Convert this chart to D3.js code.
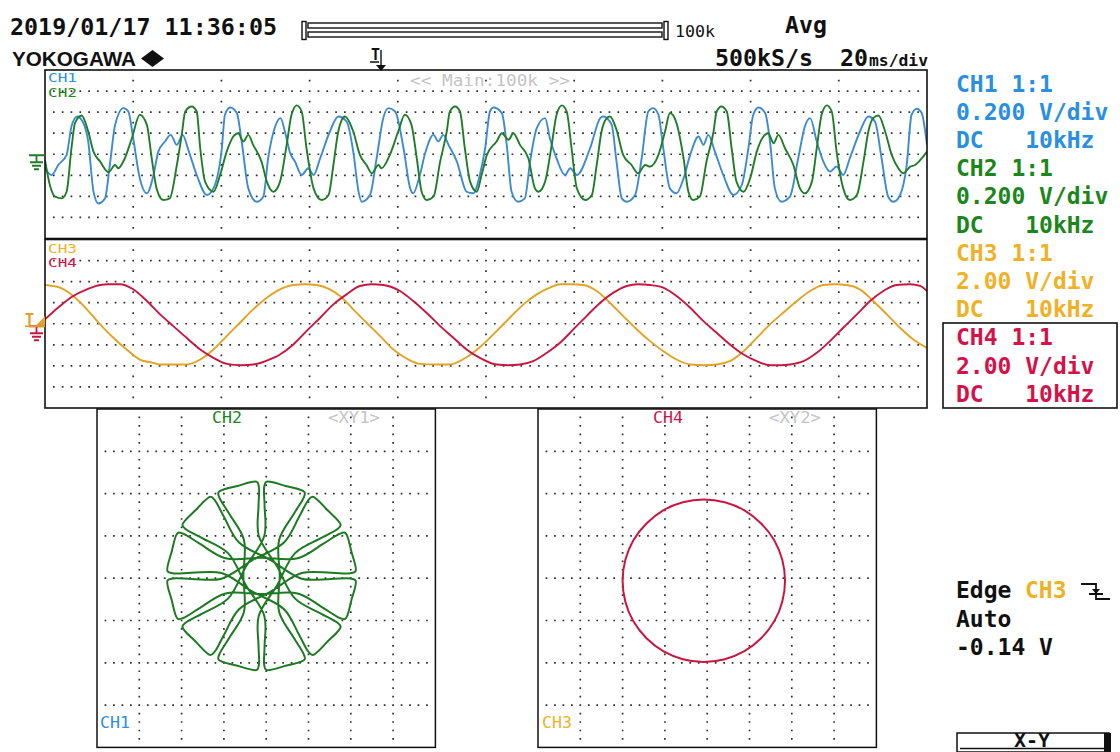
<!DOCTYPE html>
<html>
<head>
<meta charset="utf-8">
<script src="https://cdn.jsdelivr.net/npm/d3@7"></script>
<style>
  html, body { margin: 0; padding: 0; background: #fff; }
  svg { display: block; }
  text { font-family: "DejaVu Sans Mono", monospace; white-space: pre; }
</style>
</head>
<body>
<svg id="scope" width="1120" height="752"></svg>
<script>
// ---------------- acquisition data ----------------
// time in ms (0..200 across the screen), value in volts
const ch1 = [[0,-0.133],[1.5,-0.197],[3.0,-0.102],[4.9,-0.006],[6.0,0.264],[7.3,0.359],[8.7,0.295],[9.8,0.121],[11.0,-0.356],[12.1,-0.467],[13.6,-0.419],[14.7,-0.102],[15.9,0.279],[17.8,0.438],[18.9,0.406],[20.0,0.152],[21.5,-0.229],[23.1,-0.371],[24.6,-0.197],[25.7,0.025],[27.2,0.121],[28.5,0.184],[29.9,0.089],[31.2,0.184],[32.5,0.041],[34.4,-0.197],[36.7,-0.387],[38.2,-0.324],[40.1,0.057],[40.8,0.375],[42.0,0.444],[43.5,0.391],[44.6,0.121],[46.1,-0.324],[48.0,-0.451],[49.5,-0.403],[50.6,-0.038],[52.2,0.264],[53.4,0.343],[54.4,0.216],[55.6,0.010],[56.7,-0.070],[58.2,-0.197],[59.7,-0.133],[60.9,-0.197],[62.4,-0.038],[64.6,0.216],[66.5,0.359],[68.4,0.311],[69.9,0.025],[71.1,-0.356],[71.8,-0.451],[73.7,-0.387],[75.2,-0.038],[76.7,0.343],[77.9,0.438],[79.4,0.406],[81.3,0.057],[82.8,-0.324],[83.5,-0.371],[85.0,-0.197],[86.2,0.010],[88.1,0.184],[89.2,0.121],[90.3,0.184],[91.5,0.089],[93.4,-0.070],[95.6,-0.356],[97.1,-0.371],[98.6,-0.197],[99.8,0.057],[100.9,0.406],[101.7,0.444],[103.6,0.391],[104.7,0.089],[105.8,-0.356],[107.3,-0.451],[108.8,-0.419],[110.0,-0.070],[111.5,0.248],[113.4,0.343],[114.5,0.150],[116.0,-0.040],[117.9,-0.197],[119.1,-0.133],[120.6,-0.197],[123.6,0.057],[125.9,0.343],[126.6,0.359],[128.5,0.279],[129.6,-0.070],[130.8,-0.419],[131.9,-0.451],[133.8,-0.387],[135.3,-0.038],[136.8,0.406],[137.9,0.438],[139.1,0.375],[140.2,0.057],[141.7,-0.324],[143.2,-0.371],[144.8,-0.229],[146.3,-0.006],[148.2,0.168],[149.3,0.089],[150.4,0.184],[151.9,0.025],[153.8,-0.197],[156.1,-0.387],[158.0,-0.292],[159.5,0.057],[160.6,0.375],[161.8,0.444],[163.3,0.391],[164.4,0.121],[165.5,-0.324],[167.0,-0.451],[168.9,-0.403],[170.8,-0.038],[172.3,0.264],[173.5,0.343],[175.0,0.121],[176.5,-0.070],[178.0,-0.165],[179.5,-0.117],[181.0,-0.197],[182.5,-0.038],[184.8,0.216],[186.7,0.359],[188.2,0.311],[189.7,-0.038],[191.2,-0.403],[192.4,-0.451],[193.9,-0.387],[195.4,-0.102],[196.5,0.375],[197.7,0.432],[198.8,0.391],[199.6,0.216],[200,0.089]];

const ch2 = [[0,-0.054],[1.1,-0.292],[2.3,-0.403],[3.8,-0.419],[4.9,-0.356],[6.0,0.057],[6.8,0.295],[8.3,0.368],[9.8,0.216],[11.0,0.025],[12.5,-0.070],[14.4,-0.171],[15.9,-0.102],[16.6,-0.133],[18.1,-0.038],[19.7,0.152],[21.5,0.375],[23.1,0.279],[24.2,-0.038],[25.3,-0.324],[26.8,-0.435],[28.3,-0.419],[29.9,-0.102],[31.0,0.184],[31.8,0.406],[33.3,0.454],[34.4,0.406],[35.2,0.057],[36.3,-0.260],[38.2,-0.356],[39.7,-0.197],[41.2,0.025],[42.7,0.168],[43.8,0.200],[45.0,0.121],[46.1,0.184],[47.2,0.089],[49.1,-0.070],[50.3,-0.260],[51.8,-0.356],[53.3,-0.260],[54.8,0.089],[55.9,0.375],[57.1,0.464],[58.2,0.406],[59.3,0.057],[60.9,-0.324],[62.7,-0.435],[64.3,-0.387],[65.4,-0.102],[66.5,0.216],[68.0,0.359],[69.9,0.216],[71.4,-0.006],[72.9,-0.102],[74.1,-0.181],[75.6,-0.102],[76.3,-0.133],[78.2,-0.006],[80.1,0.216],[81.6,0.375],[83.1,0.279],[84.3,-0.038],[85.4,-0.356],[86.6,-0.435],[88.1,-0.403],[89.6,-0.070],[91.1,0.216],[91.8,0.406],[93.0,0.454],[94.1,0.406],[95.2,0.057],[96.4,-0.260],[97.9,-0.356],[99.0,-0.197],[100.2,-0.006],[102.4,0.121],[103.6,0.200],[105.1,0.137],[106.2,0.200],[107.7,0.089],[109.6,-0.038],[111.1,-0.324],[111.9,-0.356],[113.4,-0.260],[114.9,0.089],[116.0,0.375],[117.2,0.464],[118.3,0.406],[119.4,0.057],[120.6,-0.324],[122.5,-0.435],[124.0,-0.387],[125.1,-0.102],[126.2,0.216],[127.4,0.343],[128.1,0.359],[129.6,0.232],[131.1,-0.006],[133.0,-0.102],[134.5,-0.181],[136.1,-0.102],[137.2,-0.117],[139.1,-0.006],[140.6,0.216],[141.7,0.391],[143.2,0.295],[144.8,-0.038],[145.9,-0.356],[147.0,-0.435],[148.5,-0.403],[150.0,-0.070],[151.6,0.216],[152.3,0.406],[153.4,0.454],[154.6,0.406],[155.7,0.057],[156.8,-0.260],[158.4,-0.356],[159.9,-0.229],[161.4,0.025],[162.9,0.168],[164.0,0.200],[165.2,0.105],[166.3,0.184],[167.8,0.057],[169.7,-0.102],[171.2,-0.324],[172.3,-0.371],[173.9,-0.260],[175.0,0.057],[176.1,0.375],[177.3,0.464],[178.4,0.406],[179.5,0.025],[181.0,-0.324],[182.5,-0.435],[184.1,-0.387],[185.6,-0.070],[186.7,0.216],[187.8,0.343],[189.0,0.368],[190.5,0.216],[192.0,-0.006],[193.5,-0.133],[194.6,-0.181],[196.2,-0.117],[197.3,-0.102],[198.8,-0.038],[200,0.025]];

const ch3 = [[0,3.683],[3.4,3.429],[6.4,2.635],[9.5,1.365],[12.5,-0.064],[15.5,-1.334],[18.5,-2.445],[21.5,-3.397],[24.6,-3.715],[26.1,-3.874],[29.1,-3.874],[32.1,-3.874],[35.2,-3.397],[38.2,-2.445],[41.2,-1.175],[44.2,0.095],[47.2,1.365],[50.3,2.477],[53.3,3.270],[56.3,3.683],[59.0,3.747],[61.6,3.683],[64.6,3.270],[66.9,2.635],[69.9,1.365],[72.9,0.095],[76.0,-1.175],[79.0,-2.445],[82.0,-3.302],[85.0,-3.810],[88.8,-3.874],[91.8,-3.874],[95.6,-3.175],[98.6,-2.223],[102.4,-0.699],[105.4,0.572],[108.5,1.842],[111.5,2.794],[114.5,3.429],[116.8,3.747],[119.4,3.747],[122.1,3.683],[125.1,3.112],[128.1,2.000],[131.1,0.730],[134.2,-0.540],[137.2,-1.651],[140.2,-2.604],[143.2,-3.397],[146.3,-3.874],[149.3,-3.937],[152.3,-3.874],[155.3,-3.556],[158.4,-2.604],[161.4,-1.334],[164.4,-0.064],[167.4,1.048],[170.5,2.159],[173.5,3.112],[176.5,3.683],[179.1,3.747],[181.8,3.683],[184.8,3.270],[187.8,2.159],[190.9,0.889],[193.9,-0.381],[196.9,-1.492],[200,-2.286]];

const ch4 = [[0,0.413],[3.4,1.683],[6.4,2.635],[9.5,3.270],[12.5,3.683],[14.4,3.747],[17.0,3.747],[20.0,3.270],[23.1,2.159],[26.1,0.889],[29.1,-0.222],[32.1,-1.334],[35.2,-2.445],[38.2,-3.239],[41.2,-3.810],[44.6,-3.937],[47.2,-3.874],[50.3,-3.493],[53.3,-2.921],[56.3,-1.969],[59.3,-0.699],[62.4,0.572],[65.4,1.842],[68.4,2.794],[71.4,3.588],[74.1,3.747],[76.7,3.683],[80.5,3.112],[83.5,2.159],[86.5,1.048],[89.6,-0.222],[92.6,-1.334],[95.6,-2.445],[98.6,-3.239],[102.4,-3.874],[105.1,-3.937],[107.7,-3.874],[110.7,-3.556],[113.8,-2.762],[116.8,-1.810],[119.8,-0.540],[122.8,0.730],[125.9,2.000],[128.9,2.953],[131.9,3.588],[134.5,3.747],[137.2,3.683],[140.2,3.429],[143.2,2.635],[146.3,1.524],[149.3,0.254],[152.3,-0.857],[155.3,-1.969],[158.4,-2.921],[161.4,-3.556],[164.4,-3.937],[166.7,-3.937],[168.9,-3.874],[172.0,-3.556],[175.0,-2.762],[178.0,-1.651],[181.0,-0.381],[184.1,0.889],[187.1,2.159],[190.1,3.112],[193.1,3.683],[196.2,3.747],[198.4,3.588],[200,3.112]];

// XY1 (CH1 horizontal, CH2 vertical): trace as [angle deg, radius V] around its own centre
const xy1Origin = [-0.022, 0.011];
const xy1Trace = [
  [4,.190],[2.5,.330],[1.7,.420],[2.8,.445],[15,.440],[27.2,.445],[28.3,.420],[27.5,.330],[26,.190],[90,.086],
  [154,.190],[152.5,.330],[151.7,.420],[152.8,.445],[165,.440],[177.2,.445],[178.3,.420],[177.5,.330],[176,.190],[240,.086],
  [304,.190],[302.5,.330],[301.7,.420],[302.8,.445],[315,.440],[327.2,.445],[328.3,.420],[327.5,.330],[326,.190],[30,.086],
  [94,.190],[92.5,.330],[91.7,.420],[92.8,.445],[105,.440],[117.2,.445],[118.3,.420],[117.5,.330],[116,.190],[180,.086],
  [244,.190],[242.5,.330],[241.7,.420],[242.8,.445],[255,.440],[267.2,.445],[268.3,.420],[267.5,.330],[266,.190],[330,.086],
  [34,.190],[32.5,.330],[31.7,.420],[32.8,.445],[45,.440],[57.2,.445],[58.3,.420],[57.5,.330],[56,.190],[120,.086],
  [184,.190],[182.5,.330],[181.7,.420],[182.8,.445],[195,.440],[207.2,.445],[208.3,.420],[207.5,.330],[206,.190],[270,.086],
  [334,.190],[332.5,.330],[331.7,.420],[332.8,.445],[345,.440],[357.2,.445],[358.3,.420],[357.5,.330],[356,.190],[60,.086],
  [124,.190],[122.5,.330],[121.7,.420],[122.8,.445],[135,.440],[147.2,.445],[148.3,.420],[147.5,.330],[146,.190],[210,.086],
  [274,.190],[272.5,.330],[271.7,.420],[272.8,.445],[285,.440],[297.2,.445],[298.3,.420],[297.5,.330],[296,.190],[0,.086],
  [64,.190],[62.5,.330],[61.7,.420],[62.8,.445],[75,.440],[87.2,.445],[88.3,.420],[87.5,.330],[86,.190],[150,.086],
  [214,.190],[212.5,.330],[211.7,.420],[212.8,.445],[225,.440],[237.2,.445],[238.3,.420],[237.5,.330],[236,.190],[300,.086]
];

// XY2 (CH3 horizontal, CH4 vertical): [CH3 V, CH4 V]
const xy2Trace = [[3.68,-0.12],[3.55,0.87],[3.17,1.80],[2.55,2.59],[1.76,3.21],[0.83,3.59],[-0.16,3.72],[-1.15,3.59],[-2.08,3.21],[-2.87,2.59],[-3.49,1.80],[-3.87,0.87],[-4.00,-0.12],[-3.87,-1.11],[-3.49,-2.04],[-2.87,-2.84],[-2.08,-3.45],[-1.15,-3.83],[-0.16,-3.96],[0.83,-3.83],[1.76,-3.45],[2.55,-2.84],[3.17,-2.04],[3.55,-1.11]];

// channel settings
const chNames = ["CH1", "CH2", "CH3", "CH4"];
const voltsPerDiv = [0.2, 0.2, 2, 2];
const vdivLabels = ["0.200 V/div", "0.200 V/div", "2.00 V/div", "2.00 V/div"];
const couplingLabels = ["DC   10kHz", "DC   10kHz", "DC   10kHz", "DC   10kHz"];
const probeLabels = ["1:1", "1:1", "1:1", "1:1"];
const timePerDiv = 20;           // ms/div
const timeDivs = 10, ampDivs = 8, xyDivs = 8;
const triggerLevel = -0.14;      // V on CH3
const headerTexts = { date: "2019/01/17 11:36:05", brand: "YOKOGAWA", mode: "Avg", rate: "500kS/s", tdiv: "20", tunit: "ms/div", rec: "100k", zoom: "<< Main:100k >>" };
const triggerTexts = ["Edge", "CH3", "Auto", "-0.14 V"];

// ---------------- drawing ----------------
const traceColor = ["#3c8bd2", "#1f7d28", "#e2a325", "#c8173f"];
const labelColor = ["#2a8fe0", "#1b861b", "#f0b126", "#d3124a"];
const svg = d3.select("#scope");

const TX0 = 45, TX1 = 927;
const upper = { y0: 70, y1: 238.5 }, lower = { y0: 239.5, y1: 408 };
const xy1Box = { x0: 97, x1: 435.4, y0: 409, y1: 747.4 };
const xy2Box = { x0: 538, x1: 876.4, y0: 409, y1: 747.4 };

const xT = d3.scaleLinear().domain([0, timeDivs * timePerDiv]).range([TX0, TX1]);
const yU = d3.scaleLinear().domain([-ampDivs / 2 * voltsPerDiv[0], ampDivs / 2 * voltsPerDiv[0]]).range([upper.y1, upper.y0]);
const yL = d3.scaleLinear().domain([-ampDivs / 2 * voltsPerDiv[2], ampDivs / 2 * voltsPerDiv[2]]).range([lower.y1, lower.y0]);
const x1S = d3.scaleLinear().domain([-xyDivs / 2 * voltsPerDiv[0], xyDivs / 2 * voltsPerDiv[0]]).range([xy1Box.x0, xy1Box.x1]);
const y1S = d3.scaleLinear().domain([-xyDivs / 2 * voltsPerDiv[1], xyDivs / 2 * voltsPerDiv[1]]).range([xy1Box.y1, xy1Box.y0]);
const x2S = d3.scaleLinear().domain([-xyDivs / 2 * voltsPerDiv[2], xyDivs / 2 * voltsPerDiv[2]]).range([xy2Box.x0, xy2Box.x1]);
const y2S = d3.scaleLinear().domain([-xyDivs / 2 * voltsPerDiv[3], xyDivs / 2 * voltsPerDiv[3]]).range([xy2Box.y1, xy2Box.y0]);
const r1S = d3.scaleLinear().domain([0, xyDivs / 2 * voltsPerDiv[0]]).range([0, (xy1Box.x1 - xy1Box.x0) / 2]);

// dotted graticule
function dotGrid(box, nx, ny, hPer, vPer) {
  const dx = (box.x1 - box.x0) / nx, dy = (box.y1 - box.y0) / ny, s = 1.7;
  let p = "";
  const dot = (x, y) => { p += `M${(x - s / 2).toFixed(2)},${(y - s / 2).toFixed(2)}h${s}v${s}h${-s}z`; };
  for (let k = 1; k < ny; k++) {
    const y = box.y0 + k * dy;
    for (let j = 1; j < nx * hPer; j++) dot(box.x0 + j * dx / hPer, y);
  }
  for (let i = 1; i < nx; i++) {
    const x = box.x0 + i * dx;
    for (let m = 1; m < ny * vPer; m++) if (m % vPer) dot(x, box.y0 + m * dy / vPer);
  }
  svg.append("path").attr("d", p).attr("fill", "#2e2e2e");
}
dotGrid({ x0: TX0, x1: TX1, y0: upper.y0, y1: upper.y1 }, timeDivs, ampDivs, 10, 2);
dotGrid({ x0: TX0, x1: TX1, y0: lower.y0, y1: lower.y1 }, timeDivs, ampDivs, 10, 2);
dotGrid(xy1Box, xyDivs, xyDivs, 5, 5);
dotGrid(xy2Box, xyDivs, xyDivs, 5, 5);

// clip regions
const defs = svg.append("defs");
function clip(id, b) {
  defs.append("clipPath").attr("id", id).append("rect")
    .attr("x", b.x0).attr("y", b.y0).attr("width", b.x1 - b.x0).attr("height", b.y1 - b.y0);
}
clip("cU", { x0: TX0, x1: TX1, y0: upper.y0, y1: upper.y1 });
clip("cL", { x0: TX0, x1: TX1, y0: lower.y0, y1: lower.y1 });
clip("cX1", xy1Box); clip("cX2", xy2Box);

// time-domain traces
const lineU = d3.line().x(d => xT(d[0])).y(d => yU(d[1])).curve(d3.curveMonotoneX);
const lineL = d3.line().x(d => xT(d[0])).y(d => yL(d[1])).curve(d3.curveMonotoneX);
const gU = svg.append("g").attr("clip-path", "url(#cU)");
gU.append("path").attr("d", lineU(ch1)).attr("fill", "none").attr("stroke", traceColor[0]).attr("stroke-width", 1.9);
gU.append("path").attr("d", lineU(ch2)).attr("fill", "none").attr("stroke", traceColor[1]).attr("stroke-width", 1.9);
const gL = svg.append("g").attr("clip-path", "url(#cL)");
gL.append("path").attr("d", lineL(ch3)).attr("fill", "none").attr("stroke", traceColor[2]).attr("stroke-width", 1.9);
gL.append("path").attr("d", lineL(ch4)).attr("fill", "none").attr("stroke", traceColor[3]).attr("stroke-width", 1.9);

// XY1
const gX1 = svg.append("g").attr("clip-path", "url(#cX1)")
  .append("g").attr("transform", `translate(${x1S(xy1Origin[0])},${y1S(xy1Origin[1])})`);
const radial = d3.lineRadial()
  .angle(d => (90 - d[0]) * Math.PI / 180)
  .radius(d => r1S(d[1]))
  .curve(d3.curveCatmullRomClosed.alpha(0.5));
gX1.append("path").attr("d", radial(xy1Trace)).attr("fill", "none")
  .attr("stroke", "#1e7a22").attr("stroke-width", 2).attr("stroke-linejoin", "round");

// XY2
const lineXY2 = d3.line().x(d => x2S(d[0])).y(d => y2S(d[1])).curve(d3.curveCatmullRomClosed.alpha(0.5));
svg.append("g").attr("clip-path", "url(#cX2)")
  .append("path").attr("d", lineXY2(xy2Trace)).attr("fill", "none")
  .attr("stroke", traceColor[3]).attr("stroke-width", 2);

// frames
function frame(x, y, w, h, sw) {
  svg.append("rect").attr("x", x).attr("y", y).attr("width", w).attr("height", h)
    .attr("fill", "none").attr("stroke", "#111").attr("stroke-width", sw);
}
frame(TX0, upper.y0, TX1 - TX0, upper.y1 - upper.y0, 1.6);
frame(TX0, lower.y0, TX1 - TX0, lower.y1 - lower.y0, 1.6);
frame(xy1Box.x0, xy1Box.y0, xy1Box.x1 - xy1Box.x0, xy1Box.y1 - xy1Box.y0, 1.5);
frame(xy2Box.x0, xy2Box.y0, xy2Box.x1 - xy2Box.x0, xy2Box.y1 - xy2Box.y0, 1.5);

// text helper
function txt(s, x, y, o = {}) {
  const t = svg.append("text").attr("x", x).attr("y", y).text(s)
    .attr("font-size", o.size || 23).attr("fill", o.fill || "#111")
    .attr("font-weight", o.weight || "bold")
    .attr("xml:space", "preserve");
  if (o.family) t.style("font-family", o.family);
  if (o.len) t.attr("textLength", o.len).attr("lengthAdjust", "spacingAndGlyphs");
  if (o.anchor) t.attr("text-anchor", o.anchor);
  return t;
}

// header
txt(headerTexts.date, 10, 35, { len: 267 });
txt(headerTexts.brand, 12, 66, { size: 21, family: "'Liberation Sans', Arial, sans-serif", len: 124 });
svg.append("path").attr("d", "M152.5,50 L164,58.5 L152.5,67 L141,58.5 Z").attr("fill", "#111");
txt(headerTexts.mode, 785, 33, { len: 42 });
txt(headerTexts.rate, 715, 66, { len: 98 });
txt(headerTexts.tdiv, 840, 66, { len: 28 });
txt(headerTexts.tunit, 869, 66, { size: 16, len: 59 });
txt(headerTexts.rec, 675, 37, { size: 15, weight: "normal", len: 40 });

// record-length bar
const bar = svg.append("g").attr("fill", "none").attr("stroke", "#111").attr("stroke-width", 1.4);
bar.append("rect").attr("x", 302).attr("y", 21.5).attr("width", 4).attr("height", 18);
bar.append("rect").attr("x", 308).attr("y", 23).attr("width", 354).attr("height", 5);
bar.append("rect").attr("x", 308).attr("y", 32).attr("width", 354).attr("height", 5);
bar.append("rect").attr("x", 664).attr("y", 21.5).attr("width", 4).attr("height", 18);

// trigger position marker
txt("T", 371, 60, { size: 15 });
svg.append("path").attr("d", "M370,62 H379 M381,50 V66").attr("stroke", "#111").attr("stroke-width", 1.4);
svg.append("path").attr("d", "M376,65 L386,65 L381,71 Z").attr("fill", "#111");

// in-panel labels
const small = { size: 12.5, weight: "normal" };
txt(chNames[0], 48, 82, { ...small, fill: labelColor[0], len: 29 });
txt(chNames[1], 48, 97, { ...small, fill: labelColor[1], len: 29 });
txt(chNames[2], 48, 253, { ...small, fill: labelColor[2], len: 29 });
txt(chNames[3], 48, 267, { ...small, fill: labelColor[3], len: 29 });
txt(headerTexts.zoom, 410, 86, { size: 15, weight: "normal", fill: "#c4c4c4", len: 160 });
txt(chNames[1], 212, 423, { size: 15, weight: "normal", fill: labelColor[1], len: 30 });
txt("<XY1>", 328, 423, { size: 15, weight: "normal", fill: "#c4c4c4", len: 52 });
txt(chNames[0], 100, 728, { size: 15, weight: "normal", fill: labelColor[0], len: 30 });
txt(chNames[3], 653, 423, { size: 15, weight: "normal", fill: labelColor[3], len: 30 });
txt("<XY2>", 769, 423, { size: 15, weight: "normal", fill: "#c4c4c4", len: 52 });
txt(chNames[2], 542, 728, { size: 15, weight: "normal", fill: labelColor[2], len: 30 });

// ground / trigger markers at the left edge
const gUy = yU(0), gLy = yL(0);
function ground(y, color) {
  svg.append("path").attr("d",
    `M29,${y} H45 M36.5,${y} V${y + 7} M30,${y + 7} H43 M32,${y + 10.5} H41 M34,${y + 14} H39`)
    .attr("stroke", color).attr("stroke-width", 1.8).attr("fill", "none");
}
ground(gUy + 1, traceColor[1]);
ground(gLy + 2.5, traceColor[3]);
const tlY = yL(triggerLevel);
txt("T", 25, tlY, { size: 15, fill: traceColor[2] });
svg.append("path").attr("d", `M25,${tlY + 1} H45`).attr("stroke", traceColor[2]).attr("stroke-width", 1.8);
svg.append("path").attr("d", `M36,${tlY} L45,${tlY} L45,${tlY - 9} Z`).attr("fill", traceColor[2]);

// channel legend on the right
chNames.forEach((c, i) => {
  const y0 = 91.5 + i * 3 * 28.2;
  txt(`${c} ${probeLabels[i]}`, 956, y0, { fill: labelColor[i] });
  txt(vdivLabels[i], 956, y0 + 28.2, { fill: labelColor[i] });
  txt(couplingLabels[i], 956, y0 + 56.4, { fill: labelColor[i] });
});
frame(943, 323, 174, 85, 1.6);

// trigger settings
txt(triggerTexts[0], 956, 598);
txt(triggerTexts[1], 1025, 598, { fill: labelColor[2] });
svg.append("path").attr("d", "M1081,584 H1096 V599 H1110 M1089,594 H1103")
  .attr("stroke", "#111").attr("stroke-width", 1.8).attr("fill", "none");
svg.append("path").attr("d", "M1092,589 L1100,589 L1096,594 Z").attr("fill", "#111");
txt(triggerTexts[2], 956, 627);
txt(triggerTexts[3], 956, 655);

// soft-key box
frame(957, 733, 152, 19, 1.5);
svg.append("rect").attr("x", 1104).attr("y", 733).attr("width", 7).attr("height", 19).attr("fill", "#111");
svg.append("path").attr("d", "M960,748.5 H1104").attr("stroke", "#111").attr("stroke-width", 1.5);
txt("X-Y", 1032, 747, { size: 20, anchor: "middle" });
</script>
</body>
</html>
